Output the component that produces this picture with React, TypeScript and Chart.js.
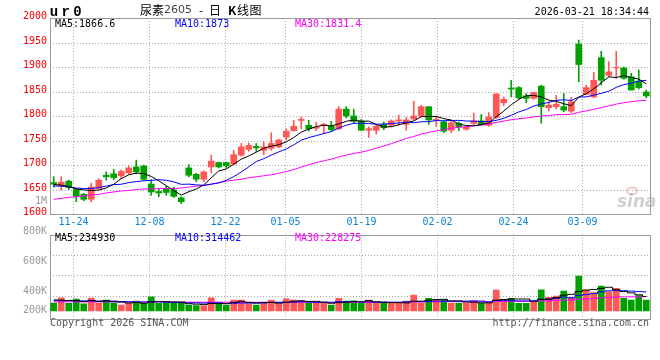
import React, { useEffect, useRef } from "react";
import { Chart, registerables } from "chart.js";

Chart.register(...registerables);

// ---------- data ----------
const dates = [
  "2025-11-19", "2025-11-20", "2025-11-21", "2025-11-24", "2025-11-25", "2025-11-26", "2025-11-27", "2025-11-28",
  "2025-12-01", "2025-12-02", "2025-12-03", "2025-12-04", "2025-12-05", "2025-12-08", "2025-12-09", "2025-12-10",
  "2025-12-11", "2025-12-12", "2025-12-15", "2025-12-16", "2025-12-17", "2025-12-18", "2025-12-19", "2025-12-22",
  "2025-12-23", "2025-12-24", "2025-12-25", "2025-12-26", "2025-12-29", "2025-12-30", "2025-12-31", "2026-01-05",
  "2026-01-06", "2026-01-07", "2026-01-08", "2026-01-09", "2026-01-12", "2026-01-13", "2026-01-14", "2026-01-15",
  "2026-01-16", "2026-01-19", "2026-01-20", "2026-01-21", "2026-01-22", "2026-01-23", "2026-01-26", "2026-01-27",
  "2026-01-28", "2026-01-29", "2026-01-30", "2026-02-02", "2026-02-03", "2026-02-04", "2026-02-05", "2026-02-06",
  "2026-02-09", "2026-02-10", "2026-02-11", "2026-02-12", "2026-02-13", "2026-02-24", "2026-02-25", "2026-02-26",
  "2026-02-27", "2026-03-02", "2026-03-03", "2026-03-04", "2026-03-05", "2026-03-06", "2026-03-09", "2026-03-10",
  "2026-03-11", "2026-03-12", "2026-03-13", "2026-03-16", "2026-03-17", "2026-03-18", "2026-03-19", "2026-03-20",
];

const opens = [
  1664, 1657, 1667, 1650, 1640, 1630, 1652, 1679, 1682, 1678, 1684, 1696, 1698, 1661, 1646, 1652,
  1649, 1633, 1694, 1681, 1671, 1696, 1705, 1705, 1702, 1720, 1732, 1738, 1730, 1734, 1737, 1757,
  1770, 1791, 1781, 1775, 1781, 1779, 1774, 1814, 1800, 1790, 1771, 1771, 1783, 1781, 1790, 1783,
  1794, 1800, 1819, 1791, 1788, 1771, 1785, 1773, 1785, 1790, 1781, 1797, 1827, 1857, 1858, 1841,
  1836, 1861, 1817, 1819, 1819, 1810, 1947, 1844, 1839, 1919, 1883, 1898, 1898, 1880, 1871, 1849,
];
const highs = [
  1676, 1676, 1669, 1652, 1642, 1663, 1672, 1686, 1691, 1690, 1698, 1710, 1700, 1670, 1652, 1657,
  1655, 1635, 1701, 1683, 1688, 1720, 1706, 1706, 1730, 1744, 1745, 1744, 1747, 1766, 1753, 1774,
  1791, 1798, 1791, 1787, 1785, 1789, 1819, 1819, 1814, 1793, 1778, 1781, 1788, 1792, 1802, 1797,
  1830, 1822, 1819, 1800, 1790, 1790, 1788, 1778, 1806, 1803, 1807, 1846, 1839, 1873, 1860, 1846,
  1849, 1863, 1829, 1842, 1846, 1838, 1955, 1863, 1889, 1932, 1911, 1932, 1900, 1887, 1894, 1853,
];
const lows = [
  1655, 1649, 1650, 1625, 1627, 1625, 1650, 1669, 1670, 1672, 1681, 1682, 1669, 1638, 1635, 1638,
  1634, 1621, 1676, 1666, 1666, 1684, 1694, 1694, 1700, 1718, 1728, 1728, 1721, 1730, 1735, 1751,
  1769, 1774, 1769, 1770, 1764, 1768, 1772, 1796, 1785, 1770, 1756, 1763, 1772, 1778, 1781, 1771,
  1792, 1798, 1783, 1779, 1766, 1766, 1770, 1771, 1781, 1781, 1779, 1795, 1821, 1839, 1834, 1827,
  1834, 1785, 1810, 1814, 1809, 1807, 1870, 1843, 1837, 1863, 1880, 1877, 1875, 1853, 1855, 1837,
];
const closes = [
  1661, 1665, 1654, 1636, 1630, 1655, 1669, 1676, 1674, 1687, 1694, 1686, 1671, 1645, 1643, 1644,
  1636, 1625, 1679, 1671, 1686, 1708, 1696, 1698, 1721, 1737, 1740, 1735, 1737, 1744, 1751, 1769,
  1779, 1793, 1774, 1777, 1783, 1772, 1814, 1800, 1789, 1771, 1774, 1779, 1776, 1790, 1792, 1792,
  1800, 1819, 1792, 1793, 1769, 1786, 1778, 1777, 1790, 1783, 1798, 1845, 1834, 1855, 1837, 1836,
  1848, 1819, 1822, 1824, 1812, 1829, 1905, 1858, 1873, 1873, 1890, 1899, 1877, 1853, 1858, 1841,
];
const volumes = [
  128000, 214000, 124000, 196000, 116000, 212000, 127000, 181000, 125000, 99000, 127000, 163000, 125000, 231000, 126000, 124000,
  127000, 125000, 98000, 88000, 86000, 214000, 126000, 97000, 181000, 179000, 116000, 98000, 127000, 181000, 114000, 198000,
  179000, 165000, 126000, 125000, 127000, 97000, 209000, 163000, 165000, 126000, 181000, 125000, 127000, 126000, 124000, 164000,
  262000, 127000, 207000, 181000, 179000, 126000, 125000, 127000, 163000, 126000, 128000, 343000, 179000, 208000, 126000, 125000,
  153000, 345000, 223000, 246000, 327000, 224000, 574000, 344000, 300000, 410000, 316000, 372000, 208000, 180000, 251000, 180000,
];

// moving-average values before a full window exists
const ma5Head = [1660, 1659, 1656, 1651];
const ma10Head = [1657, 1657, 1655, 1653, 1652, 1652, 1654, 1657, 1660];
const ma30Head = [
  1630, 1632, 1634, 1635, 1637, 1639, 1640, 1643, 1645, 1647, 1648, 1650, 1651, 1651, 1652,
  1652, 1652, 1653, 1655, 1657, 1658, 1661, 1664, 1667, 1669, 1671, 1674, 1676, 1678,
];
const vma5Head = [182000, 178000, 172000, 168000];
const vma10Head = [170000, 169000, 168000, 167000, 166000, 165000, 164000, 163000, 162000];
const vma30Head = [
  150000, 150000, 150000, 149000, 149000, 149000, 149000, 148000, 148000, 148000, 148000, 147000, 147000, 147000, 147000,
  146000, 146000, 146000, 146000, 145000, 145000, 145000, 145000, 144000, 144000, 144000, 143000, 143000, 143000,
];

const priceTickValues = [1600, 1650, 1700, 1750, 1800, 1850, 1900, 1950, 2000];
const dateTickLabels = ["11-24", "12-08", "12-22", "01-05", "01-19", "02-02", "02-24", "03-09"];
const volumeTickLabels = ["800K", "600K", "400K", "200K"];
const priceLegend = ["MA5:1866.6", "MA10:1873", "MA30:1831.4"];
const volumeLegend = ["MA5:234930", "MA10:314462", "MA30:228275"];

// ---------- styles ----------
const UP = "#ff5656";
const DOWN = "#00a000";
const MA_COLORS = ["#000000", "#0000ff", "#ff00ff"];
const GRID = "#a9a9a9";
const FRAME = "#9a9a9a";
const MONO = "'DejaVu Sans Mono', 'Liberation Mono', monospace";
const CJK = "'Noto Sans CJK SC', sans-serif";

function movingAverage(values: number[], n: number, head: number[]) {
  return values.map((_, i) => {
    if (i < n - 1) return head[i];
    let s = 0;
    for (let k = i - n + 1; k <= i; k++) s += values[k];
    return s / n;
  });
}

const candleColors = opens.map((o, i) => (closes[i] >= o ? UP : DOWN));

function gridXs(chart: any) {
  const { left, right } = chart.chartArea;
  return dateTickLabels.map((lbl) => {
    const idx = dates.findIndex((d) => d.slice(5) === lbl);
    return Math.round(left + ((right - left) * idx) / (dates.length - 1)) + 0.5;
  });
}

function line(ctx: CanvasRenderingContext2D, x1: number, y1: number, x2: number, y2: number) {
  ctx.beginPath();
  ctx.moveTo(x1, y1);
  ctx.lineTo(x2, y2);
  ctx.stroke();
}

const priceDecor = {
  id: "priceDecor",
  beforeDatasetsDraw(chart: any) {
    const { ctx, chartArea } = chart;
    const { left, right, top, bottom } = chartArea;
    const y = chart.scales.y;
    ctx.save();
    ctx.lineWidth = 1;
    ctx.strokeStyle = GRID;
    ctx.setLineDash([1, 2]);
    priceTickValues.slice(1, -1).forEach((v) => {
      const py = Math.round(y.getPixelForValue(v)) + 0.5;
      line(ctx, left, py, right, py);
    });
    gridXs(chart).forEach((px) => line(ctx, px, top, px, bottom));
    ctx.setLineDash([]);
    ctx.strokeStyle = FRAME;
    ctx.strokeRect(left + 0.5, Math.round(top) + 0.5, right - left, Math.round(bottom - top));
    // watermark (drawn beneath the marks)
    ctx.strokeStyle = "rgba(235,130,130,0.45)";
    ctx.lineWidth = 2;
    ctx.beginPath();
    ctx.ellipse(632, 191, 5, 3.5, 0, 0, Math.PI * 2);
    ctx.stroke();
    ctx.fillStyle = "rgba(170,170,170,0.55)";
    ctx.font = `italic bold 17px 'DejaVu Sans', sans-serif`;
    ctx.textAlign = "left";
    ctx.textBaseline = "alphabetic";
    ctx.fillText("sina", 617, 207);
    ctx.restore();
  },
  afterDraw(chart: any) {
    const { ctx, chartArea } = chart;
    const { right, bottom } = chartArea;
    const y = chart.scales.y;
    ctx.save();
    ctx.textBaseline = "middle";
    // price tick labels
    ctx.font = `10px ${MONO}`;
    ctx.fillStyle = "#ff0000";
    ctx.textAlign = "right";
    priceTickValues.forEach((v) => ctx.fillText(String(v), 47, y.getPixelForValue(v) - 1.5));
    ctx.fillStyle = "#999999";
    ctx.fillText("1M", 47, 201);
    // date labels
    ctx.textAlign = "center";
    ctx.fillStyle = "#0b84d6";
    gridXs(chart).forEach((px, i) => ctx.fillText(dateTickLabels[i], px, bottom + 8.5));
    // legend
    ctx.textAlign = "left";
    [55, 175, 295].forEach((x, i) => {
      ctx.fillStyle = MA_COLORS[i];
      ctx.fillText(priceLegend[i], x, 24);
    });
    // header
    ctx.fillStyle = "#000";
    ctx.font = `bold 14px 'Liberation Mono', monospace`;
    ctx.textAlign = "center";
    ["u", "r", "0"].forEach((c, i) => ctx.fillText(c, 54 + i * 11.7, 12));
    ctx.textAlign = "left";
    ctx.font = `12px ${CJK}`;
    ctx.fillText("尿素", 140, 10);
    ctx.fillStyle = "#444";
    ctx.font = `11px 'DejaVu Sans', sans-serif`;
    ctx.fillText("2605", 164, 10.5);
    ctx.fillStyle = "#000";
    ctx.font = `12px ${CJK}`;
    ctx.fillText("-", 199, 10);
    ctx.fillText("日", 209, 10);
    ctx.font = `bold 12px ${CJK}`;
    ctx.fillText("K", 228, 10);
    ctx.font = `12px ${CJK}`;
    ctx.fillText("线", 237, 10);
    ctx.fillText("图", 249.5, 10);
    ctx.font = `10px ${MONO}`;
    ctx.textAlign = "right";
    ctx.fillText("2026-03-21 18:34:44", right - 1, 12);
    ctx.restore();
  },
};

const volumeDecor = {
  id: "volumeDecor",
  beforeDatasetsDraw(chart: any) {
    const { ctx, chartArea } = chart;
    const { left, right, top, bottom } = chartArea;
    ctx.save();
    ctx.lineWidth = 1;
    ctx.strokeStyle = GRID;
    ctx.setLineDash([1, 2]);
    [20.5, 40.8, 61].forEach((d) => {
      const py = Math.round(top + d) + 0.5;
      line(ctx, left, py, right, py);
    });
    gridXs(chart).forEach((px) => line(ctx, px, top, px, bottom));
    ctx.setLineDash([]);
    ctx.strokeStyle = FRAME;
    ctx.strokeRect(left + 0.5, Math.round(top) + 0.5, right - left, Math.round(bottom - top));
    ctx.restore();
  },
  afterDraw(chart: any) {
    const { ctx, chartArea } = chart;
    const { right, top, bottom } = chartArea;
    ctx.save();
    ctx.textBaseline = "middle";
    ctx.font = `10px ${MONO}`;
    ctx.textAlign = "right";
    ctx.fillStyle = "#9a9a9a";
    [-3.5, 26.5, 56.5, 75.5].forEach((d, i) => ctx.fillText(volumeTickLabels[i], 47, top + d));
    ctx.textAlign = "left";
    [55, 175, 295].forEach((x, i) => {
      ctx.fillStyle = MA_COLORS[i];
      ctx.fillText(volumeLegend[i], x, top + 4);
    });
    ctx.fillStyle = "#555";
    ctx.fillText("Copyright 2026 SINA.COM", 50, bottom + 5);
    ctx.textAlign = "right";
    ctx.fillText("http://finance.sina.com.cn", right - 1, bottom + 5);
    ctx.restore();
  },
};

export default function App() {
  const priceRef = useRef<HTMLCanvasElement | null>(null);
  const volRef = useRef<HTMLCanvasElement | null>(null);

  useEffect(() => {
    const ma5 = movingAverage(closes, 5, ma5Head);
    const ma10 = movingAverage(closes, 10, ma10Head);
    const ma30 = movingAverage(closes, 30, ma30Head);
    const vma5 = movingAverage(volumes, 5, vma5Head);
    const vma10 = movingAverage(volumes, 10, vma10Head);
    const vma30 = movingAverage(volumes, 30, vma30Head);

    const lineDs = (data: number[], color: string, stepped: any = false) => ({
      type: "line" as const,
      data,
      borderColor: color,
      borderWidth: 1,
      pointRadius: 0,
      fill: false,
      tension: 0,
      stepped,
      order: 0,
    });

    const price = new Chart(priceRef.current as HTMLCanvasElement, {
      type: "bar",
      data: {
        labels: dates,
        datasets: [
          lineDs(ma5, MA_COLORS[0]),
          lineDs(ma10, MA_COLORS[1]),
          lineDs(ma30, MA_COLORS[2]),
          {
            type: "bar",
            data: opens.map((o, i) => [o, closes[i]]),
            backgroundColor: candleColors,
            barThickness: 6,
            grouped: false,
            borderWidth: 0,
            order: 1,
          } as any,
          {
            type: "bar",
            data: lows.map((l, i) => [l, highs[i]]),
            backgroundColor: candleColors,
            barThickness: 1,
            grouped: false,
            borderWidth: 0,
            order: 2,
          } as any,
        ],
      },
      options: {
        responsive: false,
        animation: false,
        devicePixelRatio: 1,
        layout: { padding: { left: 50, right: 10, top: 18, bottom: 146 } },
        plugins: { legend: { display: false }, tooltip: { enabled: false } },
        scales: {
          x: { type: "category", display: false, offset: true },
          y: { type: "linear", display: false, min: 1600, max: 2000 },
        },
      },
      plugins: [priceDecor],
    });

    const vol = new Chart(volRef.current as HTMLCanvasElement, {
      type: "bar",
      data: {
        labels: dates,
        datasets: [
          lineDs(vma5, MA_COLORS[0], "middle"),
          lineDs(vma10, MA_COLORS[1], "middle"),
          lineDs(vma30, MA_COLORS[2], "middle"),
          {
            type: "bar",
            data: volumes,
            backgroundColor: candleColors,
            barThickness: 6,
            grouped: false,
            borderWidth: 0,
            order: 1,
          } as any,
        ],
      },
      options: {
        responsive: false,
        animation: false,
        devicePixelRatio: 1,
        layout: { padding: { left: 50, right: 10, top: 234.5, bottom: 41.5 } },
        plugins: { legend: { display: false }, tooltip: { enabled: false } },
        scales: {
          x: { type: "category", display: false, offset: true },
          y: { type: "linear", display: false, min: -123000, max: 1254000 },
        },
      },
      plugins: [volumeDecor],
    });

    return () => {
      price.destroy();
      vol.destroy();
    };
  }, []);

  return (
    <div style={{ position: "absolute", left: 0, top: 0, width: 660, height: 360, background: "#fff" }}>
      <canvas ref={priceRef} width={660} height={360} style={{ position: "absolute", left: 0, top: 0 }} />
      <canvas ref={volRef} width={660} height={360} style={{ position: "absolute", left: 0, top: 0 }} />
    </div>
  );
}
